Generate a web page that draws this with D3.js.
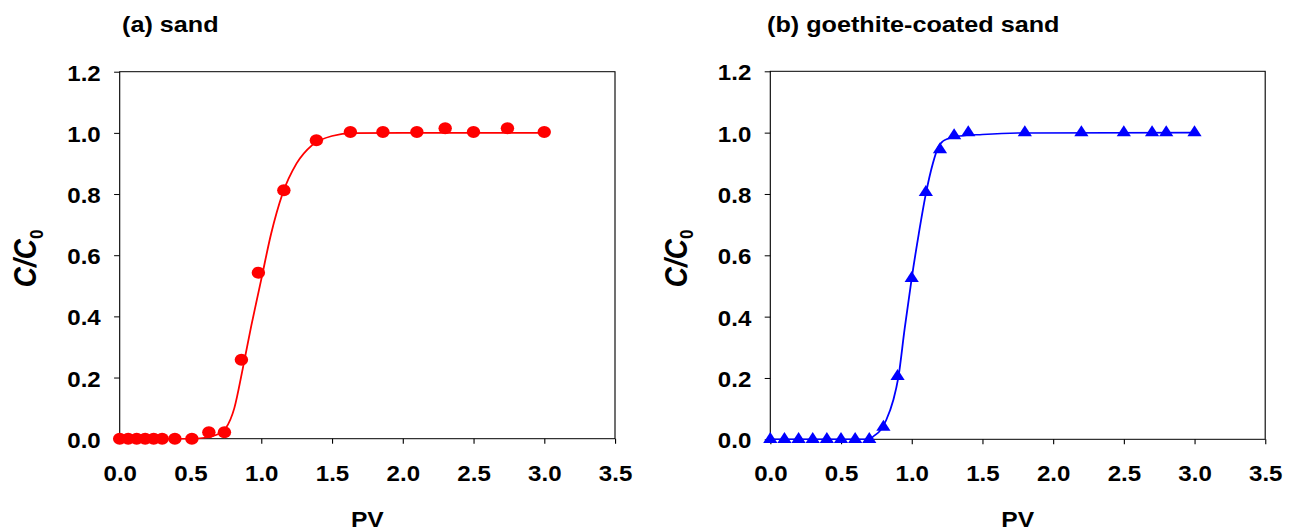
<!DOCTYPE html>
<html>
<head>
<meta charset="utf-8">
<script src="https://cdn.jsdelivr.net/npm/d3@7"></script>
<style>
  html, body { margin: 0; padding: 0; background: #fff; }
  svg { display: block; }
  text { font-family: "Liberation Sans", Arial, sans-serif; font-weight: bold; fill: #000; }
</style>
</head>
<body>
<div id="chart"></div>
<script>
// (a) sand, measured breakthrough points
var sandPV = [0.00, 0.06, 0.12, 0.18, 0.24, 0.30, 0.39, 0.51, 0.63, 0.74, 0.86, 0.98, 1.16, 1.39, 1.63, 1.86, 2.10, 2.30, 2.50, 2.74, 3.00];
var sandC  = [0, 0, 0, 0, 0, 0, 0, 0, 0.021, 0.021, 0.258, 0.543, 0.812, 0.976, 1.003, 1.003, 1.003, 1.015, 1.003, 1.015, 1.003];
// (a) fitted curve
var sandFitPV = [0, 0.50, 0.60, 0.68, 0.75, 0.81, 0.87, 0.93, 1.00, 1.07, 1.15, 1.25, 1.36, 1.50, 1.65, 2.00, 3.00];
var sandFitC  = [0, 0, 0.003, 0.012, 0.035, 0.10, 0.23, 0.37, 0.52, 0.67, 0.80, 0.90, 0.96, 0.99, 0.999, 1.0, 1.0];

// (b) goethite-coated sand, measured points
var goePV = [0, 0.1, 0.2, 0.3, 0.4, 0.5, 0.6, 0.7, 0.8, 0.9, 1.0, 1.1, 1.2, 1.3, 1.4, 1.8, 2.2, 2.5, 2.7, 2.8, 3.0];
var goeC  = [0, 0, 0, 0, 0, 0, 0, 0, 0.04, 0.205, 0.525, 0.805, 0.945, 0.99, 1.0, 1.0, 1.0, 1.0, 1.0, 1.0, 1.0];
// (b) fitted curve
var goeFitPV = [0, 0.70, 0.73, 0.78, 0.82, 0.87, 0.905, 0.95, 1.00, 1.05, 1.10, 1.15, 1.19, 1.22, 1.26, 1.34, 1.50, 1.80, 3.00];
var goeFitC  = [0, 0, 0.01, 0.03, 0.063, 0.128, 0.20, 0.36, 0.525, 0.67, 0.80, 0.90, 0.955, 0.972, 0.981, 0.989, 0.994, 0.999, 1.0];

var xTicks = [0, 0.5, 1.0, 1.5, 2.0, 2.5, 3.0, 3.5];
var yTicks = [0, 0.2, 0.4, 0.6, 0.8, 1.0, 1.2];
var panelTitles = ["(a) sand", "(b) goethite-coated sand"];

// the source figure is stretched sideways a little, so draw in a narrower box and stretch it
var SX = 1.12;
var W = 1289, H = 532;

var svg = d3.select("#chart").append("svg")
  .attr("width", W)
  .attr("height", H)
  .attr("viewBox", "0 0 " + (W / SX) + " " + H)
  .attr("preserveAspectRatio", "none");

var zip = function (xs, ys) {
  return xs.map(function (v, i) { return { x: v, y: ys[i] }; });
};

var drawPanel = function (opt) {
  var x = d3.scaleLinear().domain([0, 3.5]).range([opt.left / SX, opt.right / SX]);
  var y = d3.scaleLinear().domain([0, 1.2]).range([opt.bottom, opt.top]);
  var g = svg.append("g");

  g.append("rect")
    .attr("x", x(0)).attr("y", y(1.2))
    .attr("width", x(3.5) - x(0)).attr("height", y(0) - y(1.2))
    .attr("fill", "none").attr("stroke", "#000").attr("stroke-width", 1);

  var xa = g.append("g")
    .attr("transform", "translate(0," + y(0) + ")")
    .call(d3.axisBottom(x).tickValues(xTicks).tickSize(5).tickSizeOuter(0).tickFormat(d3.format(".1f")));
  xa.select(".domain").remove();
  xa.selectAll("text")
    .attr("y", 42).attr("dy", null)
    .style("font-size", "21.5px");

  var ya = g.append("g")
    .attr("transform", "translate(" + x(0) + ",0)")
    .call(d3.axisLeft(y).tickValues(yTicks).tickSize(5).tickSizeOuter(0).tickFormat(d3.format(".1f")));
  ya.select(".domain").remove();
  ya.selectAll("text")
    .attr("x", -19 / SX).attr("dy", "0.4em")
    .style("font-size", "21.5px");

  // fitted line
  var line = d3.line()
    .x(function (d) { return x(d.x); })
    .y(function (d) { return y(d.y); })
    .curve(d3.curveMonotoneX);
  g.append("path")
    .datum(zip(opt.fitPV, opt.fitC))
    .attr("d", line)
    .attr("fill", "none")
    .attr("stroke", opt.color)
    .attr("stroke-width", 1.6);

  // points
  var pts = zip(opt.pv, opt.c);
  if (opt.marker === "circle") {
    g.selectAll("circle.pt").data(pts).enter().append("circle")
      .attr("class", "pt")
      .attr("cx", function (d) { return x(d.x); })
      .attr("cy", function (d) { return y(d.y); })
      .attr("r", 6)
      .attr("fill", opt.color);
  } else {
    var tri = d3.symbol().type(d3.symbolTriangle).size(70);
    g.selectAll("path.pt").data(pts).enter().append("path")
      .attr("class", "pt")
      .attr("d", tri)
      .attr("transform", function (d) { return "translate(" + x(d.x) + "," + y(d.y) + ")"; })
      .attr("fill", opt.color);
  }

  // panel title
  g.append("text")
    .attr("x", opt.titleX / SX).attr("y", 32)
    .style("font-size", "22.5px")
    .text(opt.title);

  // axis titles
  g.append("text")
    .attr("x", (x(0) + x(3.5)) / 2).attr("y", 527)
    .attr("text-anchor", "middle")
    .style("font-size", "22px")
    .text("PV");

  var yt = g.append("text")
    .attr("transform", "translate(" + (x(0) - 83.7 / SX) + "," + 258.5 + ") rotate(-90)")
    .attr("text-anchor", "middle")
    .style("font-size", "28px");
  yt.append("tspan").style("font-style", "italic").text("C/C");
  yt.append("tspan").attr("dy", 6).style("font-size", "17px").text("0");
};

drawPanel({
  left: 119.7, right: 615, top: 71.7, bottom: 438.7,
  title: panelTitles[0], titleX: 122,
  pv: sandPV, c: sandC, fitPV: sandFitPV, fitC: sandFitC,
  color: "#ff0000", marker: "circle"
});

drawPanel({
  left: 770.3, right: 1265.2, top: 71.3, bottom: 439.3,
  title: panelTitles[1], titleX: 767,
  pv: goePV, c: goeC, fitPV: goeFitPV, fitC: goeFitC,
  color: "#0000ff", marker: "triangle"
});
</script>
</body>
</html>
